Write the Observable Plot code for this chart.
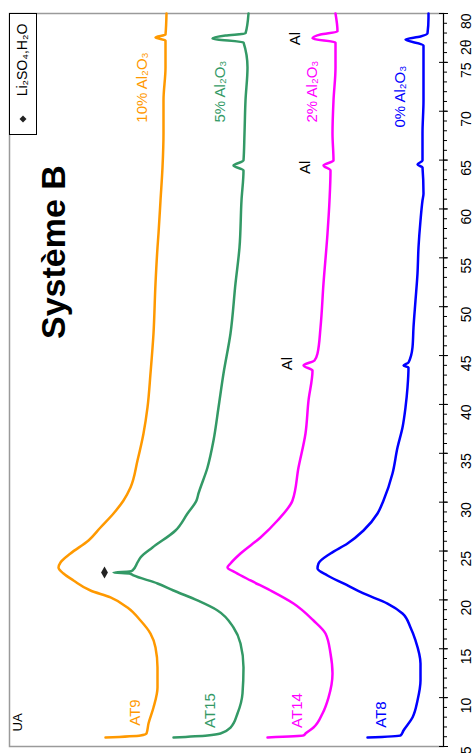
<!DOCTYPE html>
<html>
<head>
<meta charset="utf-8">
<script src="https://cdn.jsdelivr.net/npm/d3@7"></script>
<script src="https://cdn.jsdelivr.net/npm/@observablehq/plot@0.6"></script>
<style>
  html, body { margin: 0; padding: 0; background: #fff; }
  #wrap { position: relative; width: 475px; height: 753px; overflow: hidden; background: #fff; }
  #legend { position: absolute; left: 9px; top: 13px; }
</style>
</head>
<body>
<div id="wrap">
  <div id="legend">
    <svg width="28" height="122" style="font-family:'Liberation Sans', Arial, sans-serif">
      <rect x="0.5" y="0.5" width="27" height="121" fill="white" stroke="black" stroke-width="1"></rect>
      <path d="M14,102.5 L17.5,106 L14,109.5 L10.5,106 Z" fill="#222"></path>
      <text transform="translate(13.5,47) rotate(-90)" text-anchor="middle" dy="0.32em" font-size="14" fill="#000">Li₂SO₄,H₂O</text>
    </svg>
  </div>
</div>
<script>
// 2θ (degrees) tick values
const theta2Ticks = [5, 10, 15, 20, 25, 30, 35, 40, 45, 50, 55, 60, 65, 70, 75, 80];
const minorTicks = d3.range(5, 81, 1);
const axisTitle = [{text: "2θ", tt: 77.35}];

// series: [2θ, intensity (UA)]
const at9 = [[5.92,338],[6.13,303],[6.33,297],[7.35,295],[8.99,290],[11.04,286],[13.08,286],[15.13,288],[16.56,293],[17.89,303],[19.22,316],[20.25,333],[20.96,353],[21.99,370],[22.70,380],[23.32,385],[23.83,383],[24.75,373],[26.08,355],[27.41,343],[28.84,330],[30.17,320],[31.50,313],[34.26,306],[37.03,300],[39.69,296],[43.17,293],[47.26,290],[52.38,288],[56.06,286],[57.49,285],[60.87,283],[64.25,281],[67.72,280],[71.10,280],[74.48,278],[77.24,278],[77.55,288],[77.85,278],[80,277]];

const at15 = [[5.92,270],[6.13,236],[6.33,223],[6.94,213],[8.38,206],[10.42,201],[13.08,200],[15.54,203],[17.18,210],[18.92,226],[19.94,246],[20.96,270],[21.68,286],[22.50,310],[22.70,314],[22.80,330],[22.90,314],[23.01,311],[23.83,306],[24.34,303],[25.36,291],[27.10,268],[28.84,256],[30.17,247],[30.89,245],[33.55,236],[36.31,230],[39.69,225],[43.17,220],[47.26,213],[52.38,208],[56.06,204],[60.87,202],[63.94,200],[64.45,210],[64.96,200],[67.72,199],[71.10,198],[74.48,196],[77.04,200],[77.44,231],[77.75,218],[77.96,198],[80,195]];

const at14 = [[5.92,176],[6.13,140],[6.33,138],[6.94,130],[8.38,121],[10.01,115],[12.47,111],[14.52,113],[16.56,118],[17.89,130],[19.63,150],[20.96,173],[21.99,193],[22.80,208],[23.32,216],[23.73,213],[24.75,203],[26.39,183],[28.12,166],[30.17,151],[33.55,145],[37.03,138],[40.40,135],[43.47,131],[43.98,140],[44.50,129],[45.21,126],[47.87,123],[52.38,120],[57.49,116],[60.87,114],[63.94,113],[64.45,120],[64.96,110],[67.72,111],[71.10,110],[74.48,108],[77.04,108],[77.44,131],[77.85,123],[78.16,106],[80,108]];

const at8 = [[5.92,76],[6.13,43],[6.64,40],[7.97,31],[9.71,26],[11.75,23],[13.49,23],[15.85,28],[17.18,33],[18.61,41],[19.63,56],[20.66,80],[21.68,100],[22.50,116],[23.21,126],[23.73,125],[24.75,113],[25.77,96],[27.10,80],[28.84,66],[30.17,60],[32.93,51],[35.59,46],[37.64,41],[39.69,38],[41.73,36],[43.78,35],[43.98,40],[44.29,35],[45.83,31],[47.87,30],[50.64,28],[53.40,26],[56.06,25],[58.82,23],[60.87,21],[61.58,20],[64.25,21],[64.55,26],[64.96,21],[67.72,21],[71.10,20],[74.48,20],[76.73,20],[77.34,38],[77.65,23],[77.96,16],[79.59,15],[80,15]];

const seriesNames = ["AT9", "AT15", "AT14", "AT8"];
const seriesComp = ["10% Al₂O₃", "5% Al₂O₃", "2% Al₂O₃", "0% Al₂O₃"];
const seriesColors = ["#FF9900", "#339966", "#FF00FF", "#0000FF"];
const seriesData = [at9, at15, at14, at8];
// label anchors [2θ, UA]
const nameLabelPos = [[8.48,308],[8.68,233],[8.68,146],[8.27,62]];
const compLabelPos = [[72.43,301],[72.02,223],[72.02,131],[71.5,43]];
const alLabels = [[77.44,148],[64.25,138],[44.19,156]];
const li2so4Marker = [[22.80,339]];

const font = "'Liberation Sans', Arial, sans-serif";

const lineMarks = seriesData.map((data, i) =>
  Plot.line(data, {x: d => d[1], y: d => d[0], stroke: seriesColors[i], strokeWidth: 2.5, strokeLinejoin: "round", curve: "monotone-y"}));
const nameMarks = seriesNames.map((n, i) =>
  Plot.text([nameLabelPos[i]], {x: d => d[1], y: d => d[0], text: () => n, fill: seriesColors[i], rotate: -90, fontSize: 15}));
const compMarks = seriesComp.map((c, i) =>
  Plot.text([compLabelPos[i]], {x: d => d[1], y: d => d[0], text: () => c, fill: seriesColors[i], rotate: -90, fontSize: 15}));

const chart = Plot.plot({
  width: 475,
  height: 753,
  marginLeft: 9,
  marginRight: 32,
  marginTop: 13,
  marginBottom: 7,
  x: {domain: [0, 434], reverse: true, axis: null},
  y: {domain: [5, 80], axis: null},
  style: {fontFamily: font, background: "white", overflow: "visible"},
  marks: [
    Plot.frame({stroke: "#9a9a9a", strokeWidth: 1.5}),
    ...lineMarks,
    Plot.dot(li2so4Marker, {x: d => d[1], y: d => d[0], symbol: "diamond", r: 3.6, fill: "#222"}),
    ...nameMarks,
    ...compMarks,
    Plot.text(alLabels, {x: d => d[1], y: d => d[0], text: () => "Al", fill: "#000", rotate: -90, fontSize: 15}),
    Plot.ruleX([0], {stroke: "#000", strokeWidth: 1}),
    Plot.ruleY(theta2Ticks, {y: d => d, x1: 0, x2: 0, insetLeft: -4, insetRight: -5, stroke: "#000"}),
    Plot.ruleY(minorTicks, {y: d => d, x1: 0, x2: 0, insetRight: -4, stroke: "#000"}),
    Plot.text(theta2Ticks.filter(d => d !== 80), {y: d => d, text: d => String(d), frameAnchor: "right", dx: 23, rotate: -90, fontSize: 14, fill: "#000"}),
    Plot.text(theta2Ticks.filter(d => d === 80), {y: d => d, text: d => String(d), frameAnchor: "right", dx: 23, rotate: -90, fontSize: 14, textAnchor: "end", fill: "#000"}),
    Plot.text(axisTitle, {y: d => d.tt, text: d => d.text, frameAnchor: "right", dx: 23, rotate: -90, fontSize: 14, fill: "#000"}),
    Plot.text(["Système B"], {text: d => d, frameAnchor: "left", dx: 45, dy: -41, rotate: -90, fontSize: 34, fontWeight: "bold", fill: "#000"}),
    Plot.text(["UA"], {text: d => d, frameAnchor: "bottom-left", dx: 12, dy: -15, rotate: -90, fontSize: 13, fill: "#000"})
  ]
});
const wrap = document.getElementById("wrap");
wrap.insertBefore(chart, wrap.firstChild);
</script>
</body>
</html>
